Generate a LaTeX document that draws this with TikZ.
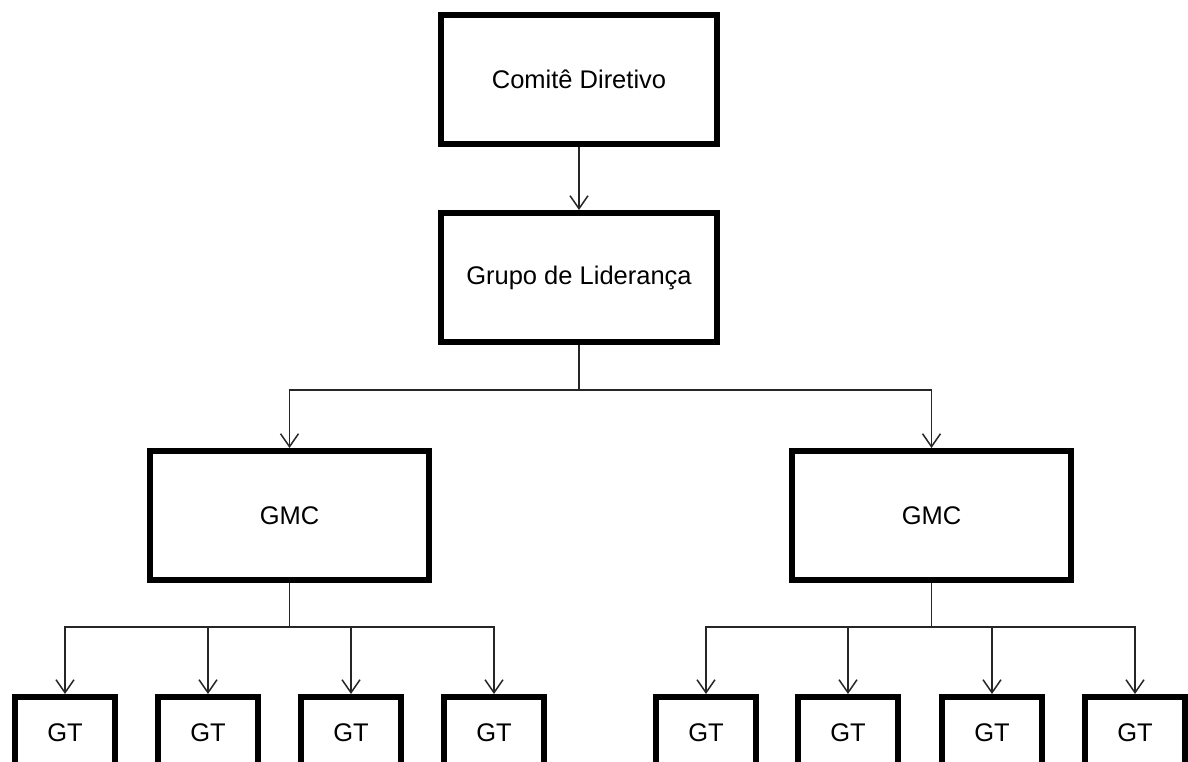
\documentclass[tikz,border=0pt]{standalone}
\usepackage{fontspec}
\setmainfont{Liberation Sans}
\usepackage{tikz}
\usetikzlibrary{arrows.meta}

\begin{document}
\begin{tikzpicture}[x=1pt,y=-1pt,
  bigbox/.style={draw,line width=6pt,minimum width=276pt,minimum height=129pt,inner sep=0pt,font=\fontsize{25.5}{28}\selectfont},
  gmcbox/.style={bigbox,minimum width=279pt},
  gtbox/.style={bigbox,minimum width=100pt,minimum height=72pt},
  arr/.style={line width=1.5pt,draw=black!85,-{Straight Barb[length=13pt,width=18pt,line width=1.5pt]}},
  wire/.style={line width=1.5pt,draw=black!85}]
\useasboundingbox (0,0) rectangle (1188,762);
\node[bigbox] (cd) at (579,79.5) {Comitê Diretivo};
\node[bigbox] (gl) at (579,277.5) {Grupo de Liderança};
\node[gmcbox] (gmca) at (289.5,515.5) {GMC};
\node[gmcbox] (gmcb) at (931.5,515.5) {GMC};
\node[gtbox] (gta) at (65,733) {GT};
\node[gtbox] (gtb) at (208,733) {GT};
\node[gtbox] (gtc) at (351,733) {GT};
\node[gtbox] (gtd) at (494,733) {GT};
\node[gtbox] (gte) at (706,733) {GT};
\node[gtbox] (gtf) at (848,733) {GT};
\node[gtbox] (gtg) at (992,733) {GT};
\node[gtbox] (gth) at (1135,733) {GT};
\coordinate (bus) at (579,390);
\coordinate (busa) at (289.5,627);
\coordinate (busb) at (931.5,627);
\draw[arr] (cd) -- (gl);
\draw[wire] (gl) -- (bus);
\draw[arr] (bus) -| (gmca.north);
\draw[arr] (bus) -| (gmcb.north);
\draw[wire] (gmca) -- (busa);
\draw[arr] (busa) -| (gta.north);
\draw[arr] (busa) -| (gtb.north);
\draw[arr] (busa) -| (gtc.north);
\draw[arr] (busa) -| (gtd.north);
\draw[wire] (gmcb) -- (busb);
\draw[arr] (busb) -| (gte.north);
\draw[arr] (busb) -| (gtf.north);
\draw[arr] (busb) -| (gtg.north);
\draw[arr] (busb) -| (gth.north);
\end{tikzpicture}
\end{document}
